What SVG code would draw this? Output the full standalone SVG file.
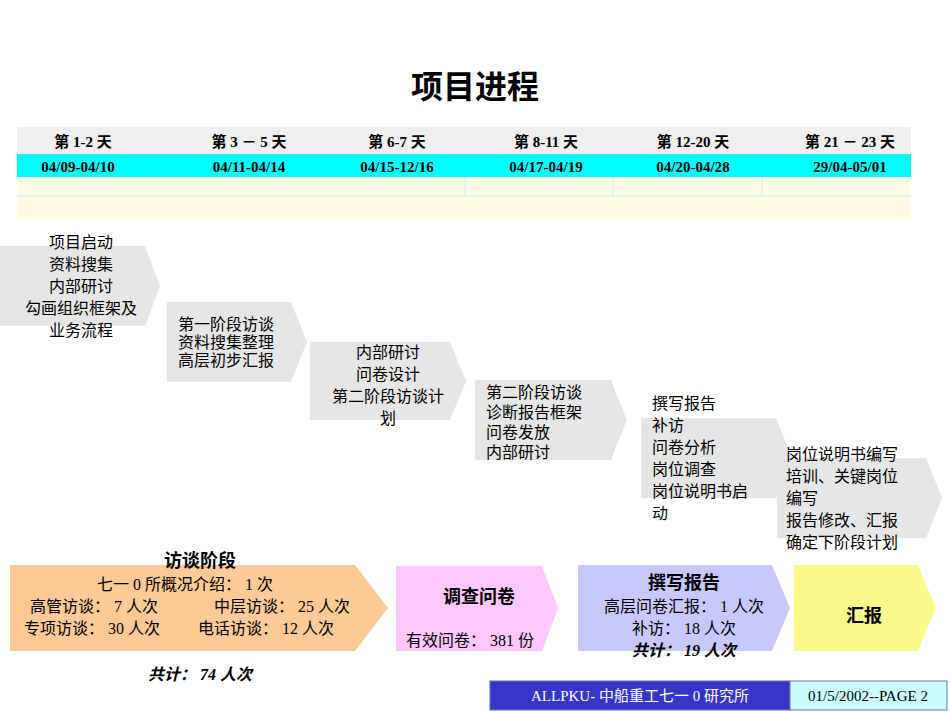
<svg xmlns="http://www.w3.org/2000/svg" width="950" height="713" viewBox="0 0 950 713">
<style>
text{font-family:"Liberation Serif","Noto Sans CJK SC",serif;fill:#000}
.h{font-size:15px;font-weight:bold;text-anchor:middle}
.t{font-size:16px}
.c{text-anchor:middle}
.g{fill:#e6e6e6}
.b{font-weight:bold}
</style>
<rect width="950" height="713" fill="#fff"/>
<text x="475" y="98" class="c b" style="font-size:32px">项目进程</text>
<g id="table">
<rect x="17" y="127" width="894" height="27" fill="#efefef"/>
<rect x="17" y="154" width="894" height="23" fill="#00ffff"/>
<rect x="17" y="177" width="894" height="43" fill="#fdfde6"/>
<g stroke="#c8f0f0" stroke-width="1">
<line x1="17" y1="196" x2="911" y2="196"/>
<line x1="465" y1="177" x2="465" y2="196"/><line x1="613" y1="177" x2="613" y2="196"/><line x1="762" y1="177" x2="762" y2="196"/>
</g>
<text x="83" y="147" class="h">第 1-2 天</text><text x="249" y="147" class="h">第 3 － 5 天</text><text x="397" y="147" class="h">第 6-7 天</text><text x="546" y="147" class="h">第 8-11 天</text><text x="693" y="147" class="h">第 12-20 天</text><text x="850" y="147" class="h">第 21 － 23 天</text>
<text x="78" y="172" class="h">04/09-04/10</text><text x="249" y="172" class="h">04/11-04/14</text><text x="397" y="172" class="h">04/15-12/16</text><text x="546" y="172" class="h">04/17-04/19</text><text x="693" y="172" class="h">04/20-04/28</text><text x="850" y="172" class="h">29/04-05/01</text>
</g>
<g id="s1"><polygon class="g" points="0,246 145,246 160,286 145,326 0,326"/>
<text class="t c" x="81" y="248">项目启动</text><text class="t c" x="81" y="270">资料搜集</text><text class="t c" x="81" y="292">内部研讨</text><text class="t c" x="81" y="314">勾画组织框架及</text><text class="t c" x="81" y="336">业务流程</text></g>
<g id="s2"><polygon class="g" points="167,302 291,302 307,342 291,382 167,382"/>
<text class="t" x="178" y="330">第一阶段访谈</text><text class="t" x="178" y="348">资料搜集整理</text><text class="t" x="178" y="366">高层初步汇报</text></g>
<g id="s3"><polygon class="g" points="310,342 450,342 466,381 450,420 310,420"/>
<text class="t c" x="388" y="358">内部研讨</text><text class="t c" x="388" y="380">问卷设计</text><text class="t c" x="388" y="402">第二阶段访谈计</text><text class="t c" x="388" y="424">划</text></g>
<g id="s4"><polygon class="g" points="475,380 611,380 627,420 611,460 475,460"/>
<text class="t" x="486" y="398">第二阶段访谈</text><text class="t" x="486" y="418">诊断报告框架</text><text class="t" x="486" y="438">问卷发放</text><text class="t" x="486" y="458">内部研讨</text></g>
<g id="s5"><polygon class="g" points="641,418 776,418 792,458 776,498 641,498"/>
<text class="t" x="652" y="409">撰写报告</text><text class="t" x="652" y="431">补访</text><text class="t" x="652" y="453">问卷分析</text><text class="t" x="652" y="475">岗位调查</text><text class="t" x="652" y="497">岗位说明书启</text><text class="t" x="652" y="519">动</text></g>
<g id="s6"><polygon class="g" points="777,458 926,458 942,498 926,538 777,538"/>
<text class="t" x="786" y="460">岗位说明书编写</text><text class="t" x="786" y="482">培训、关键岗位</text><text class="t" x="786" y="504">编写</text><text class="t" x="786" y="526">报告修改、汇报</text><text class="t" x="786" y="548">确定下阶段计划</text></g>
<g id="b1"><polygon fill="#fcca96" points="10,565 355,565 388,608 355,651 10,651"/>
<text class="c b" x="200" y="567" style="font-size:18px">访谈阶段</text>
<text class="t c" x="185" y="590">七一 0 所概况介绍： 1 次</text>
<text class="t" x="30" y="612">高管访谈： 7 人次</text><text class="t" x="214" y="612">中层访谈： 25 人次</text>
<text class="t" x="24" y="634">专项访谈： 30 人次</text><text class="t" x="198" y="634">电话访谈： 12 人次</text>
<text class="t b" x="200" y="680" style="font-style:italic;text-anchor:middle">共计： 74 人次</text></g>
<g id="b2"><polygon fill="#fdc8fc" points="396,566 542,566 558,608 542,651 396,651"/>
<text class="c b" x="479" y="603" style="font-size:18px">调查问卷</text>
<text class="t" x="406" y="646">有效问卷： 381 份</text></g>
<g id="b3"><polygon fill="#c8c8fc" points="578,565 772,565 790,608 772,651 578,651"/>
<text class="c b" x="684" y="589" style="font-size:18px">撰写报告</text>
<text class="t c" x="684" y="612">高层问卷汇报： 1 人次</text><text class="t c" x="684" y="634">补访： 18 人次</text>
<text class="t c b" x="684" y="656" style="font-style:italic">共计： 19 人次</text></g>
<g id="b4"><polygon fill="#fafa8c" points="794,565 918,565 936,608 918,651 794,651"/>
<text class="c b" x="864" y="622" style="font-size:18px">汇报</text></g>
<g id="footer">
<rect x="490" y="681" width="300" height="29" fill="#3535c8" stroke="#6f6fb0"/>
<rect x="790" y="681" width="157" height="29" fill="#ccfcfc" stroke="#6f6fb0"/>
<text x="640" y="701" class="c" style="font-size:15px;fill:#fff">ALLPKU- 中船重工七一 0 研究所</text>
<text x="868" y="701" class="c" style="font-size:15px">01/5/2002--PAGE 2</text>
</g>
</svg>
